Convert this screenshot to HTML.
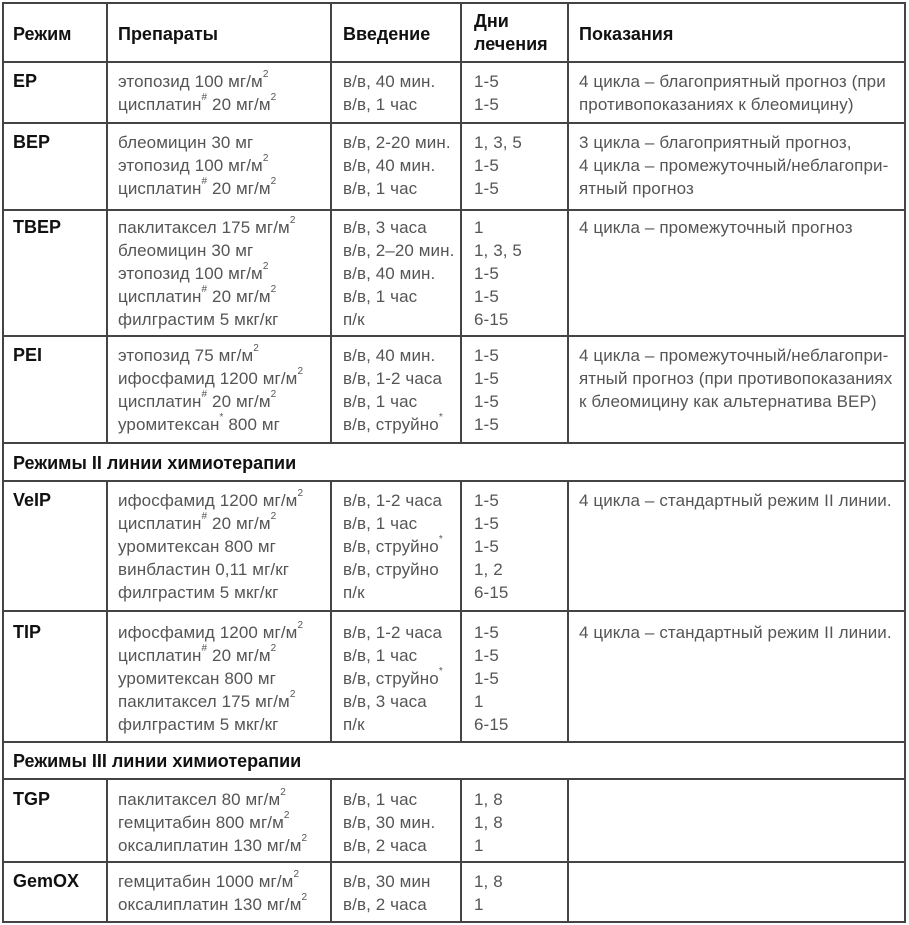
<!DOCTYPE html>
<html><head><meta charset="utf-8">
<style>
html,body{margin:0;padding:0;background:#fff;width:909px;height:925px;overflow:hidden}
body{position:relative;font-family:"Liberation Sans","DejaVu Sans",sans-serif}
.h,.v{position:absolute;background:#444}
.h{height:2px}
.v{width:2px}
.t{position:absolute;font-size:17px;line-height:23px;color:#555;white-space:pre;letter-spacing:0.1px}
.b{position:absolute;font-size:18px;line-height:23px;color:#111;font-weight:bold;white-space:pre}
sup{font-size:10px;vertical-align:top;line-height:0;position:relative;top:5px}
</style></head><body>
<div class="h" style="left:3px;width:903px;top:2px"></div>
<div class="h" style="left:3px;width:903px;top:61px"></div>
<div class="h" style="left:3px;width:903px;top:122px"></div>
<div class="h" style="left:3px;width:903px;top:209px"></div>
<div class="h" style="left:3px;width:903px;top:335px"></div>
<div class="h" style="left:3px;width:903px;top:442px"></div>
<div class="h" style="left:3px;width:903px;top:480px"></div>
<div class="h" style="left:3px;width:903px;top:610px"></div>
<div class="h" style="left:3px;width:903px;top:741px"></div>
<div class="h" style="left:3px;width:903px;top:778px"></div>
<div class="h" style="left:3px;width:903px;top:861px"></div>
<div class="h" style="left:3px;width:903px;top:921px"></div>
<div class="v" style="left:2px;top:2px;height:921px"></div>
<div class="v" style="left:904px;top:2px;height:921px"></div>
<div class="v" style="left:106px;top:2px;height:441px"></div>
<div class="v" style="left:330px;top:2px;height:441px"></div>
<div class="v" style="left:460px;top:2px;height:441px"></div>
<div class="v" style="left:567px;top:2px;height:441px"></div>
<div class="v" style="left:106px;top:480px;height:262px"></div>
<div class="v" style="left:330px;top:480px;height:262px"></div>
<div class="v" style="left:460px;top:480px;height:262px"></div>
<div class="v" style="left:567px;top:480px;height:262px"></div>
<div class="v" style="left:106px;top:778px;height:144px"></div>
<div class="v" style="left:330px;top:778px;height:144px"></div>
<div class="v" style="left:460px;top:778px;height:144px"></div>
<div class="v" style="left:567px;top:778px;height:144px"></div>

<div class="b" style="left:13px;top:23px">Режим</div>
<div class="b" style="left:118px;top:23px">Препараты</div>
<div class="b" style="left:343px;top:23px">Введение</div>
<div class="b" style="left:474px;top:10px">Дни
лечения</div>
<div class="b" style="left:579px;top:23px">Показания</div>

<div class="b" style="left:13px;top:70px">EP</div>
<div class="t" style="left:118px;top:70px">этопозид 100 мг/м<sup>2</sup>
цисплатин<sup>#</sup> 20 мг/м<sup>2</sup></div>
<div class="t" style="left:343px;top:70px">в/в, 40 мин.
в/в, 1 час</div>
<div class="t" style="left:474px;top:70px">1-5
1-5</div>
<div class="t" style="left:579px;top:70px">4 цикла – благоприятный прогноз (при
противопоказаниях к блеомицину)</div>

<div class="b" style="left:13px;top:131px">BEP</div>
<div class="t" style="left:118px;top:131px">блеомицин 30 мг
этопозид 100 мг/м<sup>2</sup>
цисплатин<sup>#</sup> 20 мг/м<sup>2</sup></div>
<div class="t" style="left:343px;top:131px">в/в, 2-20 мин.
в/в, 40 мин.
в/в, 1 час</div>
<div class="t" style="left:474px;top:131px">1, 3, 5
1-5
1-5</div>
<div class="t" style="left:579px;top:131px">3 цикла – благоприятный прогноз,
4 цикла – промежуточный/неблагопри-
ятный прогноз</div>

<div class="b" style="left:13px;top:216px">TBEP</div>
<div class="t" style="left:118px;top:216px">паклитаксел 175 мг/м<sup>2</sup>
блеомицин 30 мг
этопозид 100 мг/м<sup>2</sup>
цисплатин<sup>#</sup> 20 мг/м<sup>2</sup>
филграстим 5 мкг/кг</div>
<div class="t" style="left:343px;top:216px">в/в, 3 часа
в/в, 2–20 мин.
в/в, 40 мин.
в/в, 1 час
п/к</div>
<div class="t" style="left:474px;top:216px">1
1, 3, 5
1-5
1-5
6-15</div>
<div class="t" style="left:579px;top:216px">4 цикла – промежуточный прогноз</div>

<div class="b" style="left:13px;top:344px">PEI</div>
<div class="t" style="left:118px;top:344px">этопозид 75 мг/м<sup>2</sup>
ифосфамид 1200 мг/м<sup>2</sup>
цисплатин<sup>#</sup> 20 мг/м<sup>2</sup>
уромитексан<sup>*</sup> 800 мг</div>
<div class="t" style="left:343px;top:344px">в/в, 40 мин.
в/в, 1-2 часа
в/в, 1 час
в/в, струйно<sup>*</sup></div>
<div class="t" style="left:474px;top:344px">1-5
1-5
1-5
1-5</div>
<div class="t" style="left:579px;top:344px">4 цикла – промежуточный/неблагопри-
ятный прогноз (при противопоказаниях
к блеомицину как альтернатива BEP)</div>

<div class="b" style="left:13px;top:452px">Режимы II линии химиотерапии</div>

<div class="b" style="left:13px;top:489px">VeIP</div>
<div class="t" style="left:118px;top:489px">ифосфамид 1200 мг/м<sup>2</sup>
цисплатин<sup>#</sup> 20 мг/м<sup>2</sup>
уромитексан 800 мг
винбластин 0,11 мг/кг
филграстим 5 мкг/кг</div>
<div class="t" style="left:343px;top:489px">в/в, 1-2 часа
в/в, 1 час
в/в, струйно<sup>*</sup>
в/в, струйно
п/к</div>
<div class="t" style="left:474px;top:489px">1-5
1-5
1-5
1, 2
6-15</div>
<div class="t" style="left:579px;top:489px">4 цикла – стандартный режим II линии.</div>

<div class="b" style="left:13px;top:621px">TIP</div>
<div class="t" style="left:118px;top:621px">ифосфамид 1200 мг/м<sup>2</sup>
цисплатин<sup>#</sup> 20 мг/м<sup>2</sup>
уромитексан 800 мг
паклитаксел 175 мг/м<sup>2</sup>
филграстим 5 мкг/кг</div>
<div class="t" style="left:343px;top:621px">в/в, 1-2 часа
в/в, 1 час
в/в, струйно<sup>*</sup>
в/в, 3 часа
п/к</div>
<div class="t" style="left:474px;top:621px">1-5
1-5
1-5
1
6-15</div>
<div class="t" style="left:579px;top:621px">4 цикла – стандартный режим II линии.</div>

<div class="b" style="left:13px;top:750px">Режимы III линии химиотерапии</div>

<div class="b" style="left:13px;top:788px">TGP</div>
<div class="t" style="left:118px;top:788px">паклитаксел 80 мг/м<sup>2</sup>
гемцитабин 800 мг/м<sup>2</sup>
оксалиплатин 130 мг/м<sup>2</sup></div>
<div class="t" style="left:343px;top:788px">в/в, 1 час
в/в, 30 мин.
в/в, 2 часа</div>
<div class="t" style="left:474px;top:788px">1, 8
1, 8
1</div>

<div class="b" style="left:13px;top:870px">GemOX</div>
<div class="t" style="left:118px;top:870px">гемцитабин 1000 мг/м<sup>2</sup>
оксалиплатин 130 мг/м<sup>2</sup></div>
<div class="t" style="left:343px;top:870px">в/в, 30 мин
в/в, 2 часа</div>
<div class="t" style="left:474px;top:870px">1, 8
1</div>
</body></html>
